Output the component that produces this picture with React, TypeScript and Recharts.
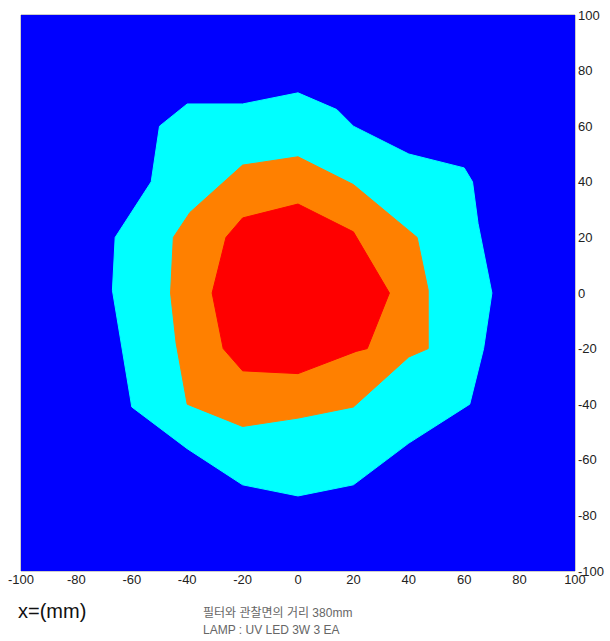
import { ReferenceArea, Scatter, ScatterChart, XAxis, YAxis } from 'recharts'

const X_TICKS = [-100, -80, -60, -40, -20, 0, 20, 40, 60, 80, 100]
const Y_TICKS = [-100, -80, -60, -40, -20, 0, 20, 40, 60, 80, 100]

// contour polygons, [x mm, y mm]
const FIELD: [number, number][] = [
  [-100, -100], [100, -100], [100, 100], [-100, 100],
]
const LEVEL_LOW: [number, number][] = [
  [0, 72], [14, 66], [20, 60], [40, 50], [60, 45], [63, 40], [65, 25],
  [70, 0], [67, -20], [62, -40], [40, -54], [20, -69], [0, -73],
  [-20, -69], [-40, -56], [-60, -41], [-67, 1], [-66, 20], [-53, 40],
  [-50, 60], [-40, 68], [-20, 68],
]
const LEVEL_MID: [number, number][] = [
  [0, 49], [20, 39], [43, 20], [47, 1], [47, -20], [40, -23], [20, -41],
  [0, -45], [-20, -48], [-40, -40], [-44, -18], [-46, 0], [-45, 20],
  [-39, 29], [-20, 46],
]
const LEVEL_HIGH: [number, number][] = [
  [0, 32], [20, 22], [33, 0], [25, -20], [21, -21], [0, -29], [-20, -28],
  [-27, -20], [-31, 0], [-26, 20], [-20, 27],
]

const COLORS = ['#0000ff', '#00ffff', '#ff8000', '#ff0000']

const toData = (pts: [number, number][]) => pts.map(([x, y]) => ({ x, y }))

const polygon = (color: string) => (props: any) => {
  const pts = (props.points || []).map((p: any) => `${p.x},${p.y}`).join(' ')
  return <polygon points={pts} fill={color} stroke={color} strokeWidth={1} />
}

const tickStyle = { fill: '#222', fontSize: 13, fontFamily: 'Liberation Sans, Arial, sans-serif' }

export default function App() {
  const layers = [FIELD, LEVEL_LOW, LEVEL_MID, LEVEL_HIGH]
  return (
    <div style={{ position: 'absolute', left: 0, top: 0, width: 610, height: 641, background: '#fff' }}>
      <ScatterChart width={610} height={641} margin={{ top: 15, right: 0, bottom: 50, left: 21 }}>
        <XAxis
          type="number"
          dataKey="x"
          domain={[-100, 100]}
          ticks={X_TICKS}
          interval={0}
          allowDataOverflow
          axisLine={false}
          tickLine={false}
          tickSize={0}
          tickMargin={4}
          height={20}
          tick={tickStyle}
        />
        <YAxis
          type="number"
          dataKey="y"
          orientation="right"
          domain={[-100, 100]}
          ticks={Y_TICKS}
          interval={0}
          allowDataOverflow
          axisLine={false}
          tickLine={false}
          tickSize={0}
          tickMargin={3}
          width={35}
          tick={tickStyle}
        />
        {layers.map((pts, i) => (
          <Scatter
            key={i}
            data={toData(pts)}
            line={polygon(COLORS[i])}
            lineType="joint"
            shape={() => <g />}
            isAnimationActive={false}
          />
        ))}
        <ReferenceArea x1={-100} x2={100} y1={-100} y2={100} fill="none" stroke="#999" strokeWidth={1} />
      </ScatterChart>
      <div
        style={{
          position: 'absolute',
          left: 18,
          top: 600,
          fontFamily: 'Liberation Sans, Arial, sans-serif',
          fontSize: 20,
          color: '#111',
        }}
      >
        x=(mm)
      </div>
      <div
        style={{
          position: 'absolute',
          left: 203,
          top: 605,
          fontFamily: 'Liberation Sans, Arial, "Noto Sans CJK KR", sans-serif',
          fontSize: 12,
          lineHeight: '17px',
          color: '#666',
        }}
      >
        <div>필터와 관찰면의 거리 380mm</div>
        <div>LAMP : UV LED 3W 3 EA</div>
      </div>
    </div>
  )
}
